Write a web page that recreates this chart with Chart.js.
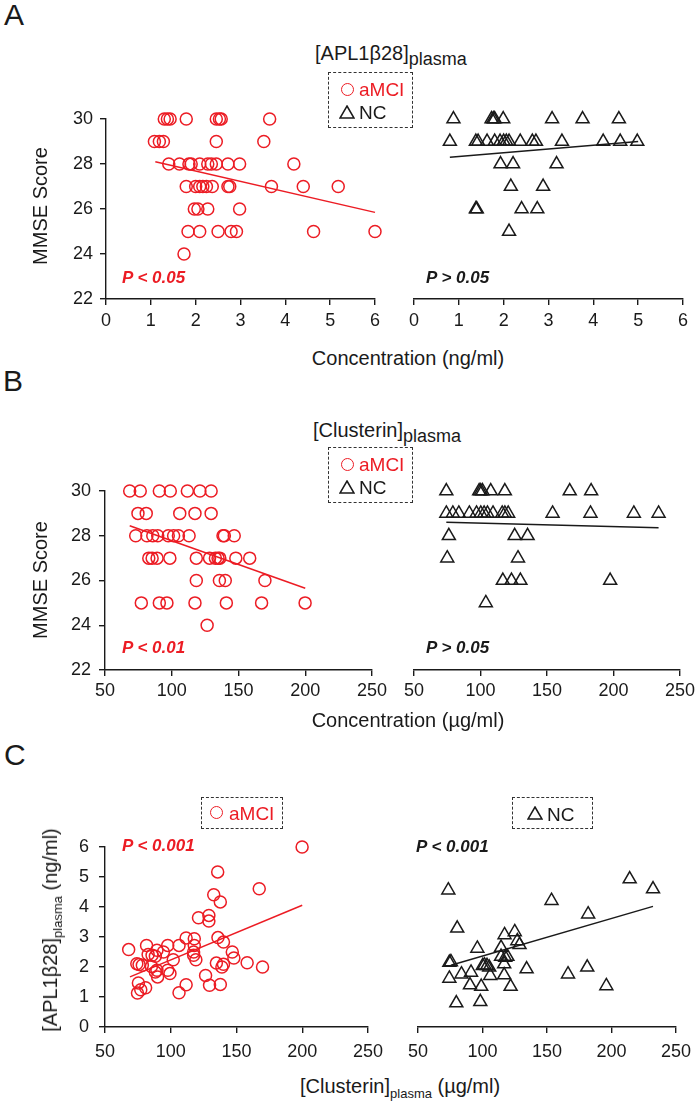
<!DOCTYPE html>
<html>
<head>
<meta charset="utf-8">
<title>MMSE and plasma APL1β28 / Clusterin</title>
<script src="https://cdn.jsdelivr.net/npm/chart.js@4.4.1/dist/chart.umd.min.js"></script>
<style>
  html, body { margin: 0; padding: 0; background: #fff; }
  #fig { position: relative; width: 700px; height: 1105px; overflow: hidden;
         font-family: "Liberation Sans", Arial, sans-serif; color: #1a1a1a; }
  #fig canvas { position: absolute; }
  .txt { position: absolute; white-space: nowrap; line-height: 1; }
  .panel { font-size: 30px; }
  .ttl { font-size: 20px; }
  .ttl .sub { font-size: 18px; position: relative; top: 5px; }
  .axt { font-size: 20px; }
  .axt .sub { font-size: 13px; position: relative; top: 5px; }
  .cx { transform: translateX(-50%); }
  .rot { transform: translate(-50%, -50%) rotate(-90deg); }
  .pval { font-size: 17px; font-weight: bold; font-style: italic; }
  .red { color: #ec1c24; }
  .key { position: absolute; box-sizing: border-box; border: 1.5px dashed #333; }
  .key span { position: absolute; white-space: nowrap; font-size: 19px; line-height: 1; }
  .key .dot { width: 13px; height: 13px; box-sizing: border-box; border: 1.5px solid #ec1c24; border-radius: 50%; }
  .key svg { position: absolute; }
</style>
</head>
<body>
<div id="fig">
  <canvas id="aMci"></canvas>
  <canvas id="aNc"></canvas>
  <canvas id="bMci"></canvas>
  <canvas id="bNc"></canvas>
  <canvas id="cMci"></canvas>
  <canvas id="cNc"></canvas>

  <!-- panel letters -->
  <div class="txt panel" style="left:4px;top:0px">A</div>
  <div class="txt panel" style="left:3px;top:366px">B</div>
  <div class="txt panel" style="left:4px;top:740px">C</div>

  <!-- titles -->
  <div class="txt ttl" style="left:315px;top:43px">[APL1β28]<span class="sub">plasma</span></div>
  <div class="txt ttl" style="left:313px;top:420px">[Clusterin]<span class="sub">plasma</span></div>

  <!-- legends -->
  <div class="key" style="left:328px;top:72px;width:85px;height:56px">
    <span class="dot" style="left:12px;top:10px"></span>
    <span class="red" style="left:30px;top:7px">aMCI</span>
    <svg style="left:10px;top:32px" width="16" height="14"><polygon points="8,1 15,13 1,13" fill="none" stroke="#1a1a1a" stroke-width="1.5"/></svg>
    <span style="left:30px;top:30px">NC</span>
  </div>
  <div class="key" style="left:328px;top:447px;width:85px;height:56px">
    <span class="dot" style="left:12px;top:10px"></span>
    <span class="red" style="left:30px;top:7px">aMCI</span>
    <svg style="left:10px;top:32px" width="16" height="14"><polygon points="8,1 15,13 1,13" fill="none" stroke="#1a1a1a" stroke-width="1.5"/></svg>
    <span style="left:30px;top:30px">NC</span>
  </div>
  <div class="key" style="left:201px;top:797px;width:82px;height:32px">
    <span class="dot" style="left:8px;top:8px"></span>
    <span class="red" style="left:27px;top:6px">aMCI</span>
  </div>
  <div class="key" style="left:512px;top:797px;width:81px;height:32px">
    <svg style="left:14px;top:8px" width="16" height="14"><polygon points="8,1 15,13 1,13" fill="none" stroke="#1a1a1a" stroke-width="1.5"/></svg>
    <span style="left:34px;top:7px">NC</span>
  </div>

  <!-- y axis titles -->
  <div class="txt axt rot" style="left:40px;top:206px">MMSE Score</div>
  <div class="txt axt rot" style="left:40px;top:580px">MMSE Score</div>
  <div class="txt axt rot" style="left:50px;top:930px">[APL1β28]<span class="sub">plasma</span> (ng/ml)</div>

  <!-- x axis titles -->
  <div class="txt axt cx" style="left:408px;top:348px">Concentration (ng/ml)</div>
  <div class="txt axt cx" style="left:408px;top:710px">Concentration (µg/ml)</div>
  <div class="txt axt" style="left:300px;top:1076px">[Clusterin]<span class="sub">plasma</span> (µg/ml)</div>

  <!-- significance -->
  <div class="txt pval red" style="left:122px;top:269px">P &lt; 0.05</div>
  <div class="txt pval" style="left:426px;top:269px">P &gt; 0.05</div>
  <div class="txt pval red" style="left:122px;top:639px">P &lt; 0.01</div>
  <div class="txt pval" style="left:426px;top:639px">P &gt; 0.05</div>
  <div class="txt pval red" style="left:122px;top:837px">P &lt; 0.001</div>
  <div class="txt pval" style="left:416px;top:838px">P &lt; 0.001</div>
</div>

<script>
// ---- A: APL1β28 (ng/ml) vs MMSE ----
const aMciConc = [1.30, 1.37, 1.43, 1.79, 2.46, 2.53, 2.57, 3.65,
                  1.08, 1.19, 1.28, 2.46, 3.52,
                  1.40, 1.64, 1.85, 1.90, 2.09, 2.27, 2.35, 2.46, 2.72, 2.98, 4.19,
                  1.79, 2.00, 2.09, 2.16, 2.24, 2.37, 2.72, 2.76, 3.69, 4.40, 5.18,
                  1.97, 2.05, 2.27, 2.98,
                  1.83, 2.09, 2.50, 2.79, 2.91, 4.63, 6.00,
                  1.74];
const aMciMmse = [30, 30, 30, 30, 30, 30, 30, 30,
                  29, 29, 29, 29, 29,
                  28, 28, 28, 28, 28, 28, 28, 28, 28, 28, 28,
                  27, 27, 27, 27, 27, 27, 27, 27, 27, 27, 27,
                  26, 26, 26, 26,
                  25, 25, 25, 25, 25, 25, 25,
                  24];
const aNcConc = [0.88, 1.73, 1.77, 1.80, 1.99, 3.08, 3.76, 4.57,
                 0.80, 1.38, 1.43, 1.63, 1.80, 1.92, 2.00, 2.06, 2.12, 2.37, 2.64, 2.72, 3.30, 4.22, 4.60, 4.98,
                 1.93, 2.21, 3.18,
                 2.16, 2.88,
                 1.38, 1.40, 2.40, 2.75,
                 2.12];
const aNcMmse = [30, 30, 30, 30, 30, 30, 30, 30,
                 29, 29, 29, 29, 29, 29, 29, 29, 29, 29, 29, 29, 29, 29, 29, 29,
                 28, 28, 28,
                 27, 27,
                 26, 26, 26, 26,
                 25];
const aMciFitX = [1.1, 6.0],  aMciFitY = [28.1, 25.85];
const aNcFitX  = [0.8, 5.0],  aNcFitY  = [28.3, 29.0];

// ---- B: Clusterin (µg/ml) vs MMSE ----
const bMciConc = [68.5, 76.4, 90.7, 98.9, 111.7, 121.1, 129.5,
                  74.7, 80.9, 106.0, 117.4, 129.5,
                  73.0, 81.4, 85.8, 89.5, 97.4, 101.4, 105.0, 113.0, 138.4, 139.4, 146.8,
                  82.8, 85.3, 89.0, 98.6, 118.4, 128.3, 132.7, 134.7, 136.0, 148.0, 158.4,
                  118.4, 135.7, 140.1, 169.8,
                  77.2, 90.7, 96.4, 117.4, 140.9, 167.3, 199.9,
                  126.5];
const bMciMmse = [30, 30, 30, 30, 30, 30, 30,
                  29, 29, 29, 29, 29,
                  28, 28, 28, 28, 28, 28, 28, 28, 28, 28, 28,
                  27, 27, 27, 27, 27, 27, 27, 27, 27, 27, 27,
                  26, 26, 26, 26,
                  25, 25, 25, 25, 25, 25, 25,
                  24];
const bNcConc = [74.3, 99.0, 100.2, 101.5, 107.7, 118.3, 167.1, 183.2,
                 74.3, 79.2, 83.7, 91.6, 97.0, 100.2, 102.7, 105.2, 109.4, 116.3, 118.3, 120.8, 154.2, 182.7, 215.3, 233.9,
                 76.2, 125.7, 135.4,
                 75.0, 128.2,
                 116.8, 123.3, 130.0, 197.5,
                 104.0];
const bNcMmse = [30, 30, 30, 30, 30, 30, 30, 30,
                 29, 29, 29, 29, 29, 29, 29, 29, 29, 29, 29, 29, 29, 29, 29, 29,
                 28, 28, 28,
                 27, 27,
                 26, 26, 26, 26,
                 25];
const bMciFitX = [68.5, 200.0], bMciFitY = [28.45, 25.65];
const bNcFitX  = [74.3, 233.9], bNcFitY  = [28.6, 28.36];

// ---- C: Clusterin (µg/ml) vs APL1β28 (ng/ml) ----
const cMciClu = [68.0, 74.2, 75.9, 75.4, 74.7, 77.2, 80.9, 78.4, 81.6, 82.8,
                 85.8, 88.3, 89.5, 85.3, 88.3, 90.0, 89.5, 94.4, 97.7, 97.7,
                 99.4, 101.9, 106.3, 106.3, 111.7, 111.7, 117.9, 117.9, 117.4, 117.4,
                 119.1, 121.1, 129.0, 129.0, 126.5, 129.5, 132.7, 135.7, 137.7, 135.9,
                 140.1, 134.7, 137.7, 138.9, 140.1, 146.8, 148.0, 158.1, 167.3, 169.8,
                 199.9];
const cMciApl = [2.58, 2.11, 2.08, 1.47, 1.13, 1.24, 1.31, 2.06, 2.72, 2.42,
                 2.39, 2.36, 2.56, 2.02, 1.83, 1.67, 1.89, 2.50, 2.72, 1.89,
                 1.78, 2.24, 2.72, 1.14, 1.41, 2.97, 2.94, 2.72, 2.50, 2.39,
                 2.24, 3.64, 3.72, 3.53, 1.72, 1.39, 4.41, 5.17, 4.17, 2.98,
                 2.83, 2.13, 1.42, 2.00, 2.09, 2.50, 2.30, 2.14, 4.61, 2.00,
                 6.00];
const cNcClu = [73.5, 75.5, 74.3, 74.3, 80.4, 79.7, 83.7, 90.3, 91.1, 96.0,
                99.0, 98.3, 100.2, 101.5, 103.5, 105.2, 106.0, 114.4, 114.4, 117.1,
                117.6, 119.3, 116.8, 116.8, 121.8, 125.0, 127.0, 128.7, 134.2, 153.5,
                166.3, 181.9, 181.2, 196.0, 214.1, 232.2];
const cNcApl = [4.56, 2.17, 2.15, 1.62, 3.29, 0.80, 1.76, 1.40, 1.82, 2.62,
                1.35, 0.84, 2.04, 2.06, 2.04, 1.99, 1.71, 2.65, 2.35, 3.07,
                2.32, 2.35, 2.10, 1.73, 1.35, 3.17, 2.87, 2.74, 1.93, 4.21,
                1.76, 3.76, 1.99, 1.37, 4.93, 4.60];
const cMciFitX = [69.0, 200.0], cMciFitY = [1.67, 4.06];
const cNcFitX  = [75.5, 232.2], cNcFitY  = [2.06, 4.02];

const RED = '#ec1c24';
const INK = '#1a1a1a';
const TICK_FONT = { family: 'Liberation Sans', size: 18 };
const Y_AXIS_W = 60;
const X_AXIS_H = 45;

function points(xs, ys) {
    return xs.map((x, i) => ({ x: x, y: ys[i] }));
}

// size/position the canvas so that the plot area lands on `area` (page px)
function placeCanvas(id, area, showY) {
    const cv = document.getElementById(id);
    const left = area.l - (showY ? Y_AXIS_W : 14);
    const top = area.t - 22;
    cv.width = area.r + 16 - left;
    cv.height = area.b + X_AXIS_H - top;
    cv.style.left = left + 'px';
    cv.style.top = top + 'px';
    return cv;
}

function axisLook(pad) {
    return {
        ticks: { color: INK, font: TICK_FONT, padding: pad },
        grid: { drawOnChartArea: false, drawTicks: true, tickLength: 6, color: INK, lineWidth: 1.4 },
        border: { color: INK, width: 1.4 }
    };
}

function scatterPanel(id, area, c) {
    const cv = placeCanvas(id, area, c.showY);
    const xLook = axisLook(c.xPad);
    const yLook = axisLook(c.yPad);
    return new Chart(cv, {
        type: 'scatter',
        data: {
            datasets: [
                {
                    data: points(c.xs, c.ys),
                    pointStyle: c.marker,
                    pointRadius: c.radius,
                    pointHoverRadius: c.radius,
                    borderColor: c.color,
                    backgroundColor: 'rgba(0,0,0,0)',
                    borderWidth: 1.5,
                    clip: false
                },
                {
                    data: points(c.fitX, c.fitY),
                    showLine: true,
                    borderColor: c.color,
                    borderWidth: 1.5,
                    pointRadius: 0,
                    clip: false
                }
            ]
        },
        options: {
            responsive: false,
            animation: false,
            events: [],
            layout: { padding: { left: c.showY ? 0 : 14, right: 16, top: 22, bottom: 0 } },
            plugins: { legend: { display: false }, tooltip: { enabled: false } },
            scales: {
                x: {
                    type: 'linear', min: c.xMin, max: c.xMax,
                    ticks: Object.assign({ stepSize: c.xStep }, xLook.ticks),
                    grid: xLook.grid, border: xLook.border,
                    afterFit: s => { s.height = X_AXIS_H; }
                },
                y: {
                    type: 'linear', display: c.showY, min: c.yMin, max: c.yMax,
                    ticks: Object.assign({ stepSize: c.yStep }, yLook.ticks),
                    grid: yLook.grid, border: yLook.border,
                    // hidden axis must stay zero-width
                    afterFit: s => { s.width = c.showY ? Y_AXIS_W : 0; }
                }
            }
        }
    });
}

const mci = { marker: 'circle', radius: 6, color: RED };
const nc = { marker: 'triangle', radius: 7.5, color: INK };
const mmse = { yMin: 22, yMax: 30, yStep: 2 };
const ngml = { xMin: 0, xMax: 6, xStep: 1 };
const ugml = { xMin: 50, xMax: 250, xStep: 50 };

scatterPanel('aMci', { l: 106, r: 375, t: 119, b: 299 },
    Object.assign({}, mci, mmse, ngml, { showY: true, xPad: 5, yPad: 7,
        xs: aMciConc, ys: aMciMmse, fitX: aMciFitX, fitY: aMciFitY }));
scatterPanel('aNc', { l: 414, r: 683, t: 119, b: 299 },
    Object.assign({}, nc, mmse, ngml, { showY: false, xPad: 5, yPad: 7,
        xs: aNcConc, ys: aNcMmse, fitX: aNcFitX, fitY: aNcFitY }));

scatterPanel('bMci', { l: 105, r: 375, t: 491, b: 670 },
    Object.assign({}, mci, mmse, ugml, { showY: true, xPad: 4, yPad: 8,
        xs: bMciConc, ys: bMciMmse, fitX: bMciFitX, fitY: bMciFitY }));
scatterPanel('bNc', { l: 414, r: 683, t: 491, b: 670 },
    Object.assign({}, nc, mmse, ugml, { showY: false, xPad: 4, yPad: 8,
        xs: bNcConc, ys: bNcMmse, fitX: bNcFitX, fitY: bNcFitY }));

scatterPanel('cMci', { l: 105, r: 375, t: 847, b: 1027 },
    Object.assign({}, mci, ugml, { yMin: 0, yMax: 6, yStep: 1, showY: true, xPad: 8, yPad: 10,
        xs: cMciClu, ys: cMciApl, fitX: cMciFitX, fitY: cMciFitY }));
scatterPanel('cNc', { l: 414, r: 683, t: 847, b: 1027 },
    Object.assign({}, nc, ugml, { yMin: 0, yMax: 6, yStep: 1, showY: false, xPad: 8, yPad: 10,
        xs: cNcClu, ys: cNcApl, fitX: cNcFitX, fitY: cNcFitY }));
</script>
</body>
</html>
